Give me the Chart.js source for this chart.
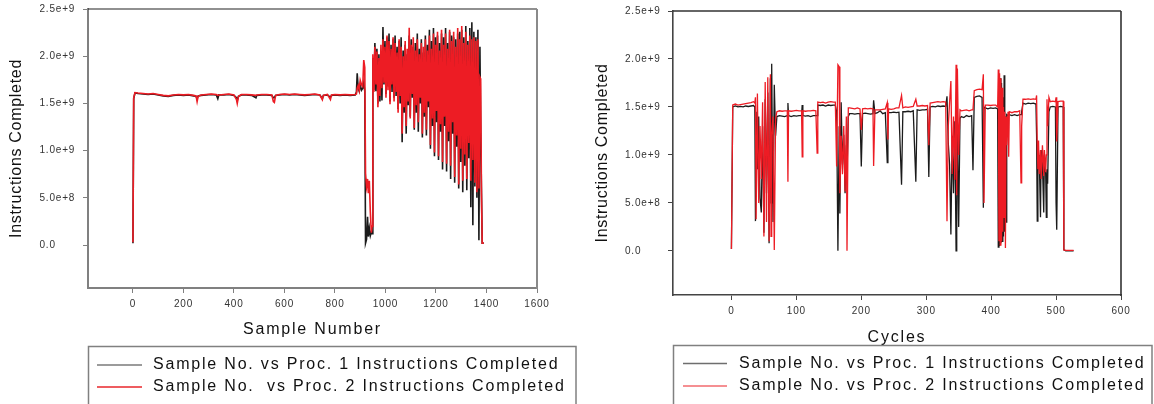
<!DOCTYPE html>
<html>
<head>
<meta charset="utf-8">
<script src="https://cdn.jsdelivr.net/npm/chart.js@4"></script>
<style>
  body { margin: 0; background: #fff; }
  canvas { position: absolute; top: 0; }
</style>
</head>
<body>
<canvas id="left" width="577" height="404" style="left:0"></canvas>
<canvas id="right" width="577" height="404" style="left:577px"></canvas>
<script>
// y values are in billions of instructions
const yTickValues = [0, 0.5, 1, 1.5, 2, 2.5];
const yTickLabels = ['0.0', '5.0e+8', '1.0e+9', '1.5e+9', '2.0e+9', '2.5e+9'];
const sampleTicks = [0, 200, 400, 600, 800, 1000, 1200, 1400, 1600];
const cycleTicks = [0, 100, 200, 300, 400, 500, 600];

// left chart: sample number
const sampleNo = [
  0, 3, 8, 20, 40, 60, 80, 100, 120, 140,
  160, 180, 200, 220, 240, 250, 254, 258, 270, 290,
  310, 330, 336, 340, 360, 380, 400, 410, 413, 418,
  430, 450, 470, 487, 490, 510, 530, 550, 556, 560,
  565, 580, 600, 620, 640, 660, 680, 700, 720, 740,
  750, 754, 770, 782, 786, 800, 820, 840, 860, 880,
  885, 888, 892, 896, 900, 905, 910, 914, 918, 921,
  925, 929, 932, 936, 940, 944, 947,
  950, 954, 958, 962, 966, 970, 974, 978, 982, 986,
  990, 994, 998, 1002, 1006, 1010, 1014, 1018, 1022, 1026,
  1030, 1034, 1038, 1042, 1046, 1050, 1054, 1058, 1062, 1066,
  1070, 1074, 1078, 1082, 1086, 1090, 1094, 1098, 1102, 1106,
  1110, 1114, 1118, 1122, 1126, 1130, 1134, 1138, 1142, 1146,
  1150, 1154, 1158, 1162, 1166, 1170, 1174, 1178, 1182, 1186,
  1190, 1194, 1198, 1202, 1206, 1210, 1214, 1218, 1222, 1226,
  1230, 1234, 1238, 1242, 1246, 1250, 1254, 1258, 1262, 1266,
  1270, 1274, 1278, 1282, 1286, 1290, 1294, 1298, 1302, 1306,
  1310, 1314, 1318, 1322, 1326, 1330, 1334, 1338, 1342, 1346,
  1350, 1354, 1358, 1362, 1366, 1370, 1374, 1377, 1380, 1383,
  1386
];
const proc1BySample = [
  0.02, 1.55, 1.61, 1.605, 1.60, 1.595, 1.60, 1.59, 1.58, 1.575,
  1.585, 1.59, 1.585, 1.59, 1.58, 1.575, 1.55, 1.58, 1.585, 1.59,
  1.595, 1.59, 1.55, 1.59, 1.59, 1.595, 1.585, 1.56, 1.53, 1.575,
  1.59, 1.59, 1.585, 1.56, 1.585, 1.59, 1.59, 1.585, 1.56, 1.56,
  1.585, 1.59, 1.595, 1.59, 1.595, 1.59, 1.585, 1.59, 1.595, 1.59,
  1.55, 1.585, 1.59, 1.565, 1.585, 1.59, 1.585, 1.59, 1.585, 1.59,
  1.62, 1.82, 1.66, 1.63, 1.70, 1.64, 1.66, 1.72, 1.63, 0.02,
  0.06, 0.30, 0.09, 0.18, 0.10, 0.14, 0.12,
  1.98, 1.64, 2.14, 1.63, 2.08, 1.50, 2.02, 1.52, 2.05, 1.53,
  2.31, 1.70, 2.16, 1.60, 2.20, 1.68, 2.24, 1.52, 2.12, 1.62,
  2.18, 1.56, 2.22, 1.58, 2.10, 1.44, 2.16, 1.50, 2.20, 1.09,
  2.06, 1.40, 2.12, 1.18, 2.02, 1.48, 2.22, 1.36, 2.18, 1.56,
  2.10, 1.22, 2.14, 1.40, 2.24, 1.20, 2.08, 1.50, 2.18, 1.14,
  2.04, 1.36, 2.22, 1.16, 2.12, 1.46, 2.28, 1.02, 2.16, 1.26,
  2.30, 0.94, 2.20, 1.30, 2.22, 0.90, 2.14, 1.20, 2.24, 0.80,
  2.20, 1.26, 2.30, 0.78, 2.14, 1.10, 2.26, 0.70, 2.22, 1.18,
  2.20, 0.66, 2.18, 1.04, 2.24, 0.60, 2.26, 0.88, 2.28, 0.56,
  2.20, 0.84, 2.32, 0.58, 2.16, 0.92, 2.30, 0.40, 2.36, 0.21,
  2.26, 0.62, 2.20, 0.50, 2.28, 0.05, 2.10, 1.18, 0.60, 0.02,
  0.03
];
const proc2BySample = [
  0.03, 1.56, 1.615, 1.61, 1.605, 1.60, 1.605, 1.595, 1.585, 1.58,
  1.59, 1.595, 1.59, 1.595, 1.585, 1.58, 1.52, 1.575, 1.59, 1.595,
  1.60, 1.595, 1.585, 1.59, 1.595, 1.60, 1.59, 1.54, 1.50, 1.575,
  1.595, 1.595, 1.59, 1.585, 1.59, 1.595, 1.595, 1.59, 1.52, 1.51,
  1.585, 1.595, 1.60, 1.595, 1.60, 1.595, 1.59, 1.595, 1.60, 1.59,
  1.54, 1.585, 1.595, 1.54, 1.59, 1.595, 1.59, 1.595, 1.59, 1.595,
  1.60, 1.66, 1.69, 1.64, 1.745, 1.70, 1.68, 1.96, 1.88, 0.76,
  0.62, 0.70, 0.55, 0.68, 0.35, 0.13, 0.20,
  2.02, 1.62, 2.10, 1.70, 2.05, 1.46, 1.98, 1.58, 2.12, 1.66,
  2.18, 1.72, 2.10, 1.56, 2.22, 1.64, 2.16, 1.49, 2.08, 1.70,
  2.20, 1.52, 2.14, 1.62, 2.04, 1.40, 2.18, 1.58, 2.10, 1.18,
  2.00, 1.46, 2.16, 1.26, 2.08, 1.52, 2.30, 1.34, 2.12, 1.60,
  2.20, 1.24, 2.06, 1.48, 2.18, 1.30, 2.02, 1.56, 2.14, 1.18,
  2.10, 1.40, 2.18, 1.22, 2.06, 1.52, 2.22, 1.06, 2.08, 1.34,
  2.24, 0.98, 2.12, 1.42, 2.26, 0.94, 2.06, 1.28, 2.28, 0.88,
  2.12, 1.36, 2.24, 0.86, 2.08, 1.20, 2.28, 0.84, 2.16, 1.30,
  2.26, 0.72, 2.10, 1.16, 2.30, 0.64, 2.18, 1.02, 2.32, 0.68,
  2.14, 0.96, 2.26, 0.70, 2.12, 1.08, 2.22, 0.68, 2.18, 0.90,
  2.20, 0.66, 2.16, 0.56, 2.18, 0.60, 1.78, 1.76, 0.55, 0.02,
  0.03
];

// right chart: cycles
const cycleNo = [
  0, 2, 6, 10, 14, 18, 22, 26, 30, 34,
  36, 37, 38, 40, 42, 44, 46, 48, 50, 52,
  54, 56, 58, 60, 61, 62, 64, 66, 68, 70,
  74, 78, 82, 86, 87, 88, 92, 96, 100, 104,
  108, 109, 110, 114, 118, 122, 126, 130, 132, 133,
  137, 141, 145, 149, 153, 157, 160, 162, 164, 166,
  167, 169, 171, 173, 175, 177, 178, 180, 182, 186,
  190, 194, 198, 200, 202, 206, 210, 214, 218, 219,
  221, 225, 229, 233, 237, 240, 241, 242, 246, 250,
  254, 258, 262, 264, 268, 272, 276, 280, 284, 286,
  290, 294, 298, 302, 304, 306, 310, 314, 318, 322,
  326, 330, 332, 334, 336, 338, 340, 342, 344, 346,
  347, 348, 350, 352, 354, 358, 362, 366, 370, 372,
  374, 378, 382, 386, 388, 389, 391, 395, 399, 403,
  407, 410, 411, 412, 413, 414, 415, 416, 417, 418,
  419, 420, 421, 422, 423, 424, 426, 427, 428, 432,
  436, 440, 444, 446, 447, 449, 453, 457, 461, 465,
  469, 470, 471, 472, 473, 474, 476, 477, 479, 481,
  482, 484, 485, 486, 487, 489, 491, 495, 499, 500,
  501, 503, 507, 511, 512, 515, 520, 527
];
const proc1ByCycle = [
  0.02, 1.50, 1.51, 1.50, 1.505, 1.50, 1.51, 1.505, 1.51, 1.515,
  1.50, 0.31, 1.45, 0.85, 1.40, 0.55, 0.40, 1.30, 0.19, 1.58,
  0.60, 1.65, 0.08, 1.80, 0.50, 1.95, 0.30, 1.73, 1.20, 1.40,
  1.41, 1.405, 1.40, 1.41, 1.54, 1.41, 1.40, 1.41, 1.405, 1.41,
  1.41, 1.52, 1.41, 1.405, 1.41, 1.40, 1.41, 1.41, 1.41, 1.52,
  1.515, 1.52, 1.51, 1.52, 1.515, 1.52, 1.52, 1.45, 0.00, 1.30,
  0.39, 1.55, 0.90, 1.21, 0.60, 1.10, 0.80, 1.40, 1.43, 1.43,
  1.425, 1.43, 1.43, 0.88, 1.43, 1.435, 1.43, 1.425, 1.43, 1.57,
  1.43, 1.44, 1.46, 1.43, 1.44, 0.92, 1.44, 1.44, 1.44, 1.445,
  1.44, 1.445, 0.69, 1.45, 1.45, 1.455, 1.45, 1.46, 0.72, 1.47,
  1.465, 1.47, 1.47, 1.475, 0.77, 1.50, 1.505, 1.50, 1.51, 1.505,
  1.51, 1.505, 1.61, 1.12, 0.90, 0.17, 1.20, 0.60, 1.35, 0.00,
  0.20, 1.40, 0.25, 1.38, 1.40, 1.39, 1.41, 1.40, 1.41, 0.84,
  1.60, 1.61, 1.615, 1.60, 0.45, 1.50, 1.49, 1.48, 1.49, 1.485,
  1.49, 1.48, 0.04, 1.83, 0.05, 1.80, 0.08, 1.75, 0.10, 1.60,
  0.15, 1.83, 0.20, 1.40, 0.30, 1.42, 1.41, 1.41, 1.42, 1.41,
  1.42, 1.41, 1.42, 1.42, 1.45, 1.54, 1.53, 1.54, 1.535, 1.54,
  1.53, 1.20, 0.31, 1.10, 0.85, 1.00, 0.35, 1.05, 0.90, 0.40,
  1.00, 0.80, 0.35, 0.85, 0.70, 1.45, 1.50, 1.505, 1.50, 0.50,
  0.22, 1.50, 1.505, 1.50, 0.01, 0.00, 0.00, 0.00
];
const proc2ByCycle = [
  0.02, 1.52, 1.53, 1.52, 1.525, 1.53, 1.535, 1.54, 1.545, 1.555,
  1.54, 1.60, 0.33, 1.64, 0.50, 1.30, 0.75, 1.55, 0.15, 1.76,
  0.30, 1.81, 0.10, 1.84, 0.15, 1.20, 1.40, 0.01, 1.38, 1.45,
  1.46, 1.455, 1.46, 1.46, 0.72, 1.46, 1.455, 1.46, 1.465, 1.46,
  1.46, 0.98, 1.46, 1.455, 1.46, 1.46, 1.465, 1.46, 1.02, 1.55,
  1.545, 1.55, 1.54, 1.55, 1.555, 1.55, 1.55, 0.88, 1.94, 1.92,
  0.60, 1.20, 0.80, 1.30, 0.62, 1.40, 0.00, 1.49, 1.49, 1.485,
  1.48, 1.49, 1.48, 1.26, 1.48, 1.485, 1.48, 1.485, 1.48, 0.885,
  1.47, 1.47, 1.47, 1.475, 1.48, 1.545, 1.16, 1.48, 1.475, 1.48,
  1.49, 1.49, 1.62, 1.49, 1.50, 1.495, 1.50, 1.505, 1.58, 1.51,
  1.51, 1.515, 1.51, 1.515, 1.10, 1.54, 1.545, 1.55, 1.555, 1.55,
  1.555, 1.55, 0.31, 1.30, 1.55, 1.77, 0.80, 1.40, 0.74, 1.94,
  0.58, 1.90, 1.00, 1.47, 1.46, 1.465, 1.47, 1.46, 1.47, 1.47,
  1.67, 1.68, 1.685, 1.68, 1.84, 0.50, 1.52, 1.52, 1.515, 1.52,
  1.52, 1.50, 1.89, 0.10, 1.85, 0.06, 1.80, 0.10, 1.70, 0.20,
  1.50, 0.35, 1.45, 0.03, 1.40, 1.10, 1.45, 0.98, 1.45, 1.44,
  1.45, 1.45, 1.46, 0.71, 1.30, 1.58, 1.58, 1.585, 1.58, 1.585,
  1.58, 1.62, 1.10, 0.85, 1.15, 0.80, 1.05, 0.75, 1.10, 0.78,
  1.05, 0.82, 1.00, 1.58, 1.30, 1.60, 1.555, 1.56, 1.555, 1.60,
  1.14, 1.555, 1.56, 1.56, 0.01, 0.005, 0.005, 0.005
];

Chart.defaults.font.family = '"Liberation Sans", Arial, sans-serif';

// wider letter spacing on axis text, as in the original
const spacing = {
  id: 'spacing',
  beforeDraw(chart) {
    for (const s of Object.values(chart.scales)) {
      if (s.$spaced) continue;
      s.$spaced = true;
      const title = s.drawTitle, labels = s.drawLabels;
      const ts = s.axis === 'x' ? '1.8px' : '0.7px';
      s.drawTitle = function (...a) { this.ctx.letterSpacing = ts; title.apply(this, a); this.ctx.letterSpacing = '0px'; };
      s.drawLabels = function (...a) { this.ctx.letterSpacing = '0.8px'; labels.apply(this, a); this.ctx.letterSpacing = '0px'; };
    }
  }
};

// top and right edges of the plot box
function frame(f) {
  return {
    id: 'frame',
    afterDatasetsDraw(chart) {
      const { ctx, chartArea: a } = chart;
      ctx.save();
      ctx.strokeStyle = f.topColor; ctx.lineWidth = f.topWidth;
      ctx.beginPath(); ctx.moveTo(a.left, a.top); ctx.lineTo(a.right, a.top); ctx.stroke();
      ctx.strokeStyle = f.rightColor; ctx.lineWidth = f.rightWidth;
      ctx.beginPath(); ctx.moveTo(a.right, a.top); ctx.lineTo(a.right, a.bottom + 1); ctx.stroke();
      ctx.restore();
    }
  };
}

// boxed legend under the plot
function boxLegend(g) {
  return {
    id: 'boxLegend',
    afterDraw(chart) {
      const ctx = chart.ctx;
      ctx.save();
      ctx.strokeStyle = '#808080'; ctx.lineWidth = 1.5;
      ctx.strokeRect(g.left, g.top, g.right - g.left, 100);
      ctx.font = '16px "Liberation Sans", Arial, sans-serif';
      ctx.letterSpacing = '1.8px';
      ctx.textBaseline = 'middle';
      ctx.fillStyle = '#111';
      chart.data.datasets.forEach((ds, i) => {
        const y = g.rows[i];
        ctx.strokeStyle = g.swatch[i]; ctx.lineWidth = 1.3;
        ctx.beginPath(); ctx.moveTo(g.lineFrom, y); ctx.lineTo(g.lineTo, y); ctx.stroke();
        ctx.fillText(ds.label, g.textX, y);
      });
      ctx.restore();
    }
  };
}

function makeChart(id, o) {
  const axis = { color: o.axisColor, width: o.axisWidth };
  return new Chart(document.getElementById(id), {
    type: 'line',
    data: {
      datasets: [
        { label: o.labels[0], data: o.xs.map((x, i) => ({ x, y: o.p1[i] })),
          borderColor: '#1b1b1b', borderWidth: o.lw, pointRadius: 0, order: 1 },
        { label: o.labels[1], data: o.xs.map((x, i) => ({ x, y: o.p2[i] })),
          borderColor: '#ed1c24', borderWidth: o.lw, pointRadius: 0, order: 0 }
      ]
    },
    options: {
      responsive: false,
      animation: false,
      events: [],
      layout: { padding: o.pad },
      plugins: { legend: { display: false }, tooltip: { enabled: false } },
      scales: {
        x: {
          type: 'linear', min: o.xMin, max: o.xMax,
          afterBuildTicks: (s) => { s.ticks = o.xTicks.map((v) => ({ value: v })); },
          afterFit: (s) => { s.height = o.xHeight; },
          ticks: { autoSkip: false, maxRotation: 0, padding: 5, font: { size: 10 }, color: '#333',
                   callback: (v) => String(v) },
          grid: { drawOnChartArea: false, tickLength: 5, color: o.axisColor },
          border: axis,
          title: { display: true, text: o.xTitle, font: { size: 16 }, color: '#111',
                   padding: { top: 0, bottom: o.xTitlePad } }
        },
        y: {
          min: o.yMin, max: 2.5,
          afterBuildTicks: (s) => { s.ticks = yTickValues.map((v) => ({ value: v })); },
          afterFit: (s) => { s.width = o.yWidth; },
          ticks: { crossAlign: 'far', font: { size: 10 }, color: '#333',
                   callback: (v, i) => yTickLabels[i] },
          grid: { drawOnChartArea: false, tickLength: 5, color: o.axisColor },
          border: axis,
          title: { display: true, text: 'Instructions Completed', font: { size: 16 }, color: '#111',
                   padding: { top: o.yTitlePad, bottom: 0 } }
        }
      }
    },
    plugins: [spacing, frame(o.frame), boxLegend(o.legend)]
  });
}

makeChart('left', {
  xs: sampleNo, p1: proc1BySample, p2: proc2BySample, lw: 1.6,
  labels: ['Sample No. vs Proc. 1 Instructions Completed', 'Sample No.  vs Proc. 2 Instructions Completed'],
  xTitle: 'Sample Number', xTicks: sampleTicks, xMin: -178, xMax: 1600, yMin: -0.455,
  pad: { left: 39.5, top: 8, right: 40, bottom: 58 },
  xHeight: 58, yWidth: 48.5, xTitlePad: 6.4, yTitlePad: -32.6,
  axisColor: '#808080', axisWidth: 2,
  frame: { topColor: '#222', topWidth: 1.2, rightColor: '#8a8a8a', rightWidth: 2 },
  legend: { left: 88.5, top: 346.5, right: 576, rows: [365, 387], lineFrom: 97, lineTo: 142, textX: 153,
            swatch: ['#7a7a7a', '#e8262b'] }
});

makeChart('right', {
  xs: cycleNo, p1: proc1ByCycle, p2: proc2ByCycle, lw: 1.3,
  labels: ['Sample No. vs Proc. 1 Instructions Completed', 'Sample No. vs Proc. 2 Instructions Completed'],
  xTitle: 'Cycles', xTicks: cycleTicks, xMin: -90, xMax: 600, yMin: -0.46,
  pad: { left: 48, top: 11, right: 33, bottom: 56 },
  xHeight: 53, yWidth: 48, xTitlePad: 0.4, yTitlePad: -31.6,
  axisColor: '#444', axisWidth: 1.6,
  frame: { topColor: '#333', topWidth: 1.4, rightColor: '#333', rightWidth: 1.6 },
  legend: { left: 96.5, top: 345.5, right: 575, rows: [363.5, 386], lineFrom: 106, lineTo: 150, textX: 162,
            swatch: ['#6e6e6e', '#f26a6e'] }
});
</script>
</body>
</html>
